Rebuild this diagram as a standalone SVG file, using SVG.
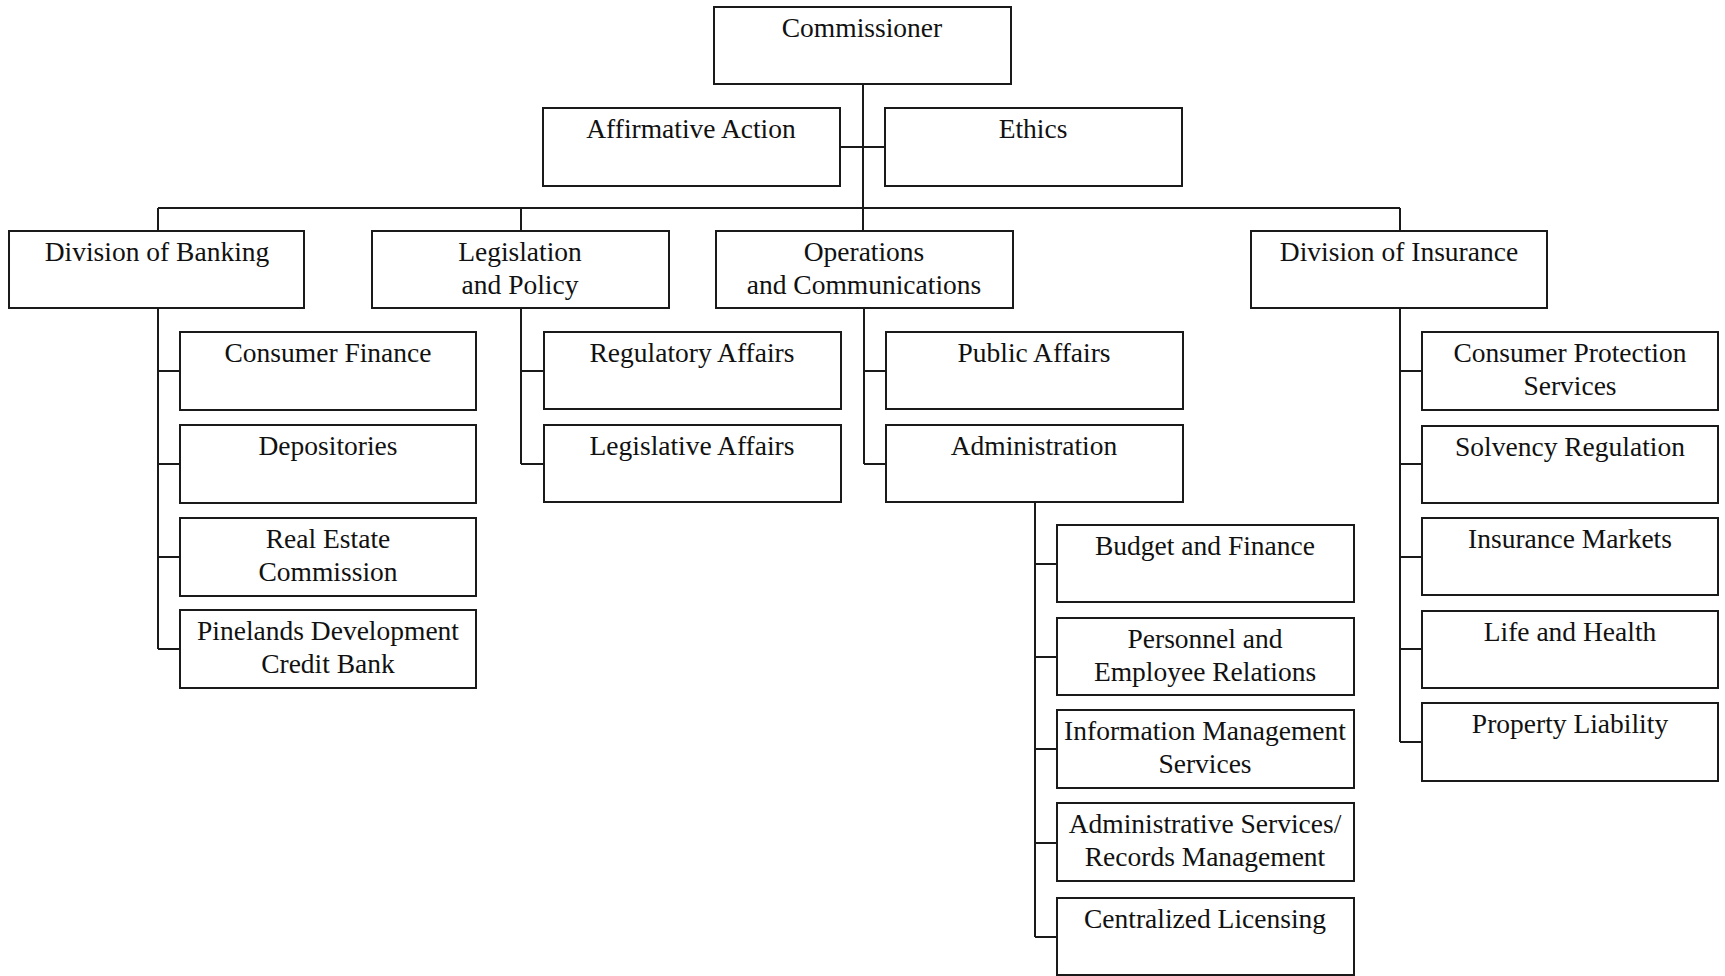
<svg xmlns="http://www.w3.org/2000/svg" width="1725" height="976" viewBox="0 0 1725 976">
<style>
.b{fill:#fff;stroke:#1a1a1a;stroke-width:2}
.t{font-family:"Liberation Serif","Times New Roman",serif;font-size:27.5px;fill:#111;text-anchor:middle}
.c{fill:none;stroke:#1a1a1a;stroke-width:2}
</style>
<rect width="1725" height="976" fill="#fff"/>
<g id="connectors">
<path class="c" d="M863 84V230M841 147H885M158 208H1400M158 208V231M521 208V231M1400 208V231"/>
<path class="c" d="M158 308V649M158 371H180M158 464H180M158 557H180M158 649H180"/>
<path class="c" d="M521 308V464M521 371H544M521 464H544"/>
<path class="c" d="M864 308V464M864 371H886M864 464H886"/>
<path class="c" d="M1035 503V937M1035 564H1057M1035 657H1057M1035 749H1057M1035 843H1057M1035 937H1057"/>
<path class="c" d="M1400 308V742M1400 371H1422M1400 464H1422M1400 557H1422M1400 649H1422M1400 742H1422"/>
</g>
<g id="commissioner"><rect class="b" x="714" y="7" width="297" height="77"/><text class="t" x="862" y="37">Commissioner</text></g>
<g id="affirmative"><rect class="b" x="543" y="108" width="297" height="78"/><text class="t" x="691" y="138">Affirmative Action</text></g>
<g id="ethics"><rect class="b" x="885" y="108" width="297" height="78"/><text class="t" x="1033" y="138">Ethics</text></g>
<g id="banking"><rect class="b" x="9" y="231" width="295" height="77"/><text class="t" x="157" y="261">Division of Banking</text></g>
<g id="legislation"><rect class="b" x="372" y="231" width="297" height="77"/><text class="t" x="520" y="261">Legislation</text><text class="t" x="520" y="294">and Policy</text></g>
<g id="operations"><rect class="b" x="716" y="231" width="297" height="77"/><text class="t" x="864" y="261">Operations</text><text class="t" x="864" y="294">and Communications</text></g>
<g id="insurance"><rect class="b" x="1251" y="231" width="296" height="77"/><text class="t" x="1399" y="261">Division of Insurance</text></g>
<g id="consumer-finance"><rect class="b" x="180" y="332" width="296" height="78"/><text class="t" x="328" y="362">Consumer Finance</text></g>
<g id="depositories"><rect class="b" x="180" y="425" width="296" height="78"/><text class="t" x="328" y="455">Depositories</text></g>
<g id="real-estate"><rect class="b" x="180" y="518" width="296" height="78"/><text class="t" x="328" y="548">Real Estate</text><text class="t" x="328" y="581">Commission</text></g>
<g id="pinelands"><rect class="b" x="180" y="610" width="296" height="78"/><text class="t" x="328" y="640">Pinelands Development</text><text class="t" x="328" y="673">Credit Bank</text></g>
<g id="regulatory"><rect class="b" x="544" y="332" width="297" height="77"/><text class="t" x="692" y="362">Regulatory Affairs</text></g>
<g id="legislative"><rect class="b" x="544" y="425" width="297" height="77"/><text class="t" x="692" y="455">Legislative Affairs</text></g>
<g id="public"><rect class="b" x="886" y="332" width="297" height="77"/><text class="t" x="1034" y="362">Public Affairs</text></g>
<g id="administration"><rect class="b" x="886" y="425" width="297" height="77"/><text class="t" x="1034" y="455">Administration</text></g>
<g id="budget"><rect class="b" x="1057" y="525" width="297" height="77"/><text class="t" x="1205" y="555">Budget and Finance</text></g>
<g id="personnel"><rect class="b" x="1057" y="618" width="297" height="77"/><text class="t" x="1205" y="648">Personnel and</text><text class="t" x="1205" y="681">Employee Relations</text></g>
<g id="information"><rect class="b" x="1057" y="710" width="297" height="78"/><text class="t" x="1205" y="740">Information Management</text><text class="t" x="1205" y="773">Services</text></g>
<g id="admin-services"><rect class="b" x="1057" y="803" width="297" height="78"/><text class="t" x="1205" y="833">Administrative Services/</text><text class="t" x="1205" y="866">Records Management</text></g>
<g id="licensing"><rect class="b" x="1057" y="898" width="297" height="77"/><text class="t" x="1205" y="928">Centralized Licensing</text></g>
<g id="consumer-protection"><rect class="b" x="1422" y="332" width="296" height="78"/><text class="t" x="1570" y="362">Consumer Protection</text><text class="t" x="1570" y="395">Services</text></g>
<g id="solvency"><rect class="b" x="1422" y="426" width="296" height="77"/><text class="t" x="1570" y="456">Solvency Regulation</text></g>
<g id="markets"><rect class="b" x="1422" y="518" width="296" height="77"/><text class="t" x="1570" y="548">Insurance Markets</text></g>
<g id="life"><rect class="b" x="1422" y="611" width="296" height="77"/><text class="t" x="1570" y="641">Life and Health</text></g>
<g id="property"><rect class="b" x="1422" y="703" width="296" height="78"/><text class="t" x="1570" y="733">Property Liability</text></g>
</svg>
